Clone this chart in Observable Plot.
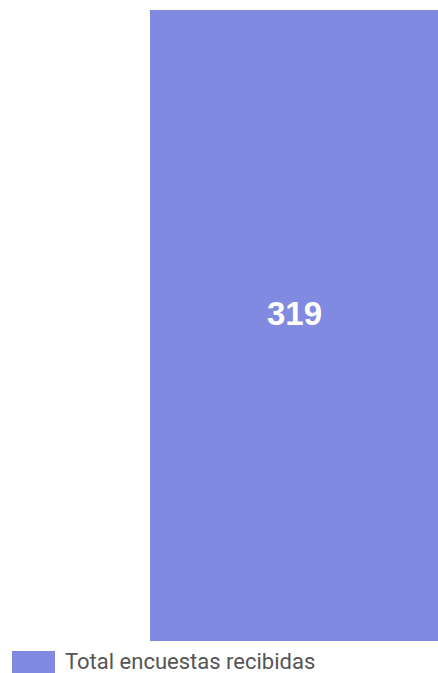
<!DOCTYPE html>
<html><head><meta charset="utf-8">
<script src="https://cdn.jsdelivr.net/npm/d3@7"></script>
<script src="https://cdn.jsdelivr.net/npm/@observablehq/plot@0.6"></script>
<style>
body{margin:0;background:#fff;}
#chart svg{display:block;}
#legend{display:flex;align-items:center;height:22px;margin:10px 0 0 12px;font-family:Roboto,sans-serif;font-size:22px;line-height:22px;color:#555;}
#legend .sw{width:43px;height:22px;background:#808ae0;margin-right:10px;flex:none;}
</style></head>
<body>
<div id="chart"></div>
<div id="legend"><div class="sw"></div><span>Total encuestas recibidas</span></div>
<script>
const categories = ["Total encuestas recibidas"];
const values = [319];
const data = categories.map((c, i) => ({category: c, value: values[i]}));
const chart = Plot.plot({
  width: 438,
  height: 641,
  marginTop: 10,
  marginBottom: 0,
  marginLeft: 150,
  marginRight: 0,
  x: {domain: categories, padding: 0, axis: null},
  y: {domain: [0, 319], axis: null},
  marks: [
    Plot.barY(data, {x: "category", y: "value", fill: "#808ae0"}),
    Plot.text(data, {x: "category", y: d => d.value / 2, text: d => String(d.value), fill: "white", fontSize: 33, fontWeight: "bold", fontFamily: "Liberation Sans, Arial, sans-serif", dy: -12})
  ]
});
document.getElementById("chart").appendChild(chart);
</script>
</body></html>
